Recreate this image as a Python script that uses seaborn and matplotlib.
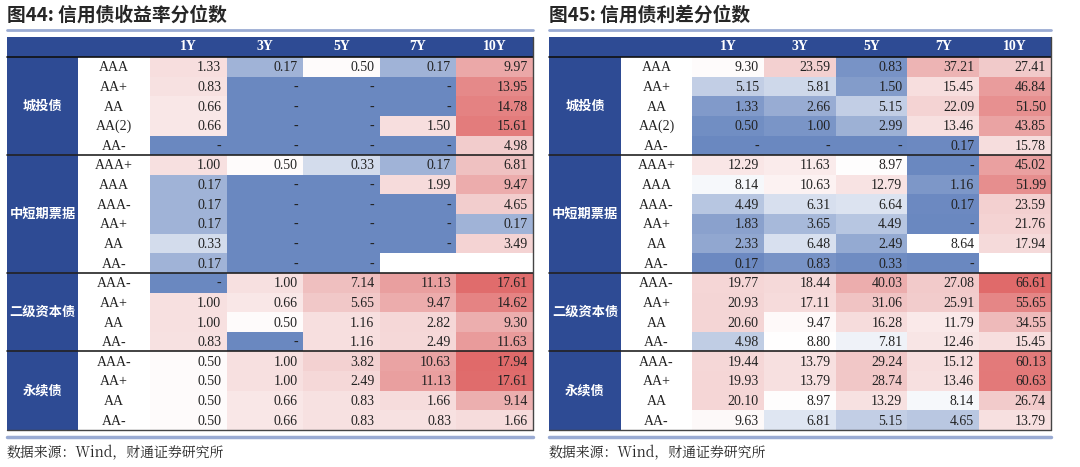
import numpy as np
import matplotlib
matplotlib.use("Agg")
import matplotlib.pyplot as plt
import seaborn as sns
from matplotlib.colors import LinearSegmentedColormap, TwoSlopeNorm
from matplotlib.patches import Rectangle

sns.set_style("white")
plt.rcParams['font.family'] = ['Noto Sans CJK SC', 'DejaVu Sans']

tenors = ["1Y", "3Y", "5Y", "7Y", "10Y"]
groups = ["城投债", "中短期票据", "二级资本债", "永续债"]
ratings = [
    ["AAA", "AA+", "AA", "AA(2)", "AA-"],
    ["AAA+", "AAA", "AAA-", "AA+", "AA", "AA-"],
    ["AAA-", "AA+", "AA", "AA-"],
    ["AAA-", "AA+", "AA", "AA-"],
]
N = np.nan  # blank cell; 0 is shown as "-"

yield_pct = [
    [1.33, 0.17, 0.50, 0.17, 9.97],
    [0.83, 0, 0, 0, 13.95],
    [0.66, 0, 0, 0, 14.78],
    [0.66, 0, 0, 1.50, 15.61],
    [0, 0, 0, 0, 4.98],
    [1.00, 0.50, 0.33, 0.17, 6.81],
    [0.17, 0, 0, 1.99, 9.47],
    [0.17, 0, 0, 0, 4.65],
    [0.17, 0, 0, 0, 0.17],
    [0.33, 0, 0, 0, 3.49],
    [0.17, 0, 0, N, N],
    [0, 1.00, 7.14, 11.13, 17.61],
    [1.00, 0.66, 5.65, 9.47, 14.62],
    [1.00, 0.50, 1.16, 2.82, 9.30],
    [0.83, 0, 1.16, 2.49, 11.63],
    [0.50, 1.00, 3.82, 10.63, 17.94],
    [0.50, 1.00, 2.49, 11.13, 17.61],
    [0.50, 0.66, 0.83, 1.66, 9.14],
    [0.50, 0.66, 0.83, 0.83, 1.66],
]
spread_pct = [
    [9.30, 23.59, 0.83, 37.21, 27.41],
    [5.15, 5.81, 1.50, 15.45, 46.84],
    [1.33, 2.66, 5.15, 22.09, 51.50],
    [0.50, 1.00, 2.99, 13.46, 43.85],
    [0, 0, 0, 0.17, 15.78],
    [12.29, 11.63, 8.97, 0, 45.02],
    [8.14, 10.63, 12.79, 1.16, 51.99],
    [4.49, 6.31, 6.64, 0.17, 23.59],
    [1.83, 3.65, 4.49, 0, 21.76],
    [2.33, 6.48, 2.49, 8.64, 17.94],
    [0.17, 0.83, 0.33, 0, N],
    [19.77, 18.44, 40.03, 27.08, 66.61],
    [20.93, 17.11, 31.06, 25.91, 55.65],
    [20.60, 9.47, 16.28, 11.79, 34.55],
    [4.98, 8.80, 7.81, 12.46, 15.45],
    [19.44, 13.79, 29.24, 15.12, 60.13],
    [19.93, 13.79, 28.74, 13.46, 60.63],
    [20.10, 8.97, 13.29, 8.14, 26.74],
    [9.63, 6.81, 5.15, 4.65, 13.79],
]

W, H = 1080, 467
fig = plt.figure(figsize=(W / 100, H / 100), dpi=100)
cmap = LinearSegmentedColormap.from_list("bwr_soft", ["#6a88c0", "#ffffff", "#f0c4c4", "#e06a6a"])
navy = "#2e4b94"
serif = "Liberation Serif"


def fx(x):
    return x / W


def fy(y):
    return 1 - y / H


def rect(x0, y0, x1, y1, color):
    fig.add_artist(Rectangle((fx(x0), fy(y1)), fx(x1 - x0), (y1 - y0) / H,
                             transform=fig.transFigure, color=color, lw=0))


def hline(x0, x1, y, color, lw):
    fig.add_artist(plt.Line2D([fx(x0), fx(x1)], [fy(y), fy(y)], transform=fig.transFigure,
                              color=color, lw=lw))


def draw_table(vals, title, x0, xr, xv, x1, vcenter):
    top, head, bottom = 37, 57, 430
    arr = np.array(vals, dtype=float)
    nrow = arr.shape[0]
    rh = (bottom - head) / nrow

    fig.text(fx(x0), fy(15), title, fontsize=13.5, fontweight="bold", va="center", ha="left")
    hline(x0, x1, 30, "#9aabd3", 2)
    hline(x0, x1, 437, "#9aabd3", 2.5)
    fig.text(fx(x0), fy(453), "数据来源：Wind，财通证券研究所", fontsize=10, va="center",
             family=["Noto Serif CJK SC", "Noto Sans CJK SC", "DejaVu Sans"])

    # header and group column
    rect(x0, top, x1, head, navy)
    rect(x0, head, xr, bottom, navy)
    cw = (x1 - xv) / len(tenors)
    for j, t in enumerate(tenors):
        fig.text(fx(xv + (j + 0.5) * cw), fy((top + head) / 2), t, color="white",
                 fontsize=10, fontweight="bold", family=serif, ha="center", va="center")

    ax = fig.add_axes([fx(xv), fy(bottom), fx(x1 - xv), (bottom - head) / H])
    norm = TwoSlopeNorm(vmin=0, vcenter=vcenter, vmax=np.nanmax(arr))
    sns.heatmap(arr, ax=ax, cmap=cmap, norm=norm, cbar=False, mask=np.isnan(arr),
                xticklabels=False, yticklabels=False)
    for i in range(nrow):
        for j in range(arr.shape[1]):
            v = arr[i, j]
            if np.isnan(v):
                continue
            s = "-" if v == 0 else f"{v:.2f}"
            ax.text(j + 0.93, i + 0.55, s, ha="right", va="center", fontsize=10,
                    family=serif, color="#222222")

    r = 0
    for g, rl in zip(groups, ratings):
        ys = head + r * rh
        ye = head + (r + len(rl)) * rh
        fig.text(fx((x0 + xr) / 2), fy((ys + ye) / 2), g, color="white", fontsize=9.5,
                 fontweight="bold", ha="center", va="center")
        for k, name in enumerate(rl):
            fig.text(fx((xr + xv) / 2), fy(ys + (k + 0.55) * rh), name, fontsize=10,
                     family=serif, ha="center", va="center", color="#222222")
        if r > 0:
            hline(x0, x1, ys, "#222222", 1.2)
        r += len(rl)
    hline(x0, x1, head, "#111111", 1.2)
    hline(x0, x1, bottom, "#444444", 1)
    fig.add_artist(plt.Line2D([fx(x1), fx(x1)], [fy(top), fy(bottom)], transform=fig.transFigure,
                              color="#444444", lw=1))


draw_table(yield_pct, "图44: 信用债收益率分位数", 7, 78, 150, 533, 0.7)
draw_table(spread_pct, "图45: 信用债利差分位数", 549, 621, 692, 1051, 13.0)

fig.savefig("out.png", dpi=100)
